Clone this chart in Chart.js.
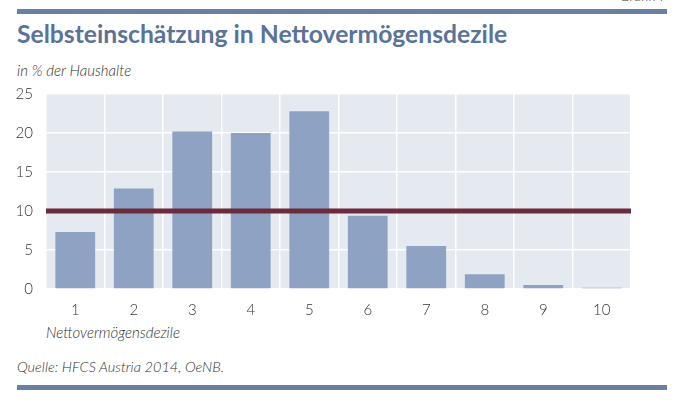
<!DOCTYPE html>
<html>
<head>
<meta charset="utf-8">
<script src="https://cdn.jsdelivr.net/npm/chart.js@4"></script>
<style>
html,body{margin:0;padding:0;background:#fff;}
body{width:683px;height:418px;position:relative;overflow:hidden;font-family:Lato,"Open Sans",sans-serif;color:#333;}
.bar{position:absolute;left:17px;width:650px;height:5px;background:#6a80a3;}
.t{position:absolute;white-space:nowrap;}
#wrap{position:absolute;left:0;top:72px;width:683px;height:255px;}
</style>
</head>
<body>
<div class="t" style="right:16px;top:-13px;font-size:14px;font-weight:300;">Grafik 7</div>
<div class="bar" style="top:9px;"></div>
<div class="t" style="left:17px;top:19px;font-size:24.7px;font-weight:700;color:#5a7398;">Selbsteinschätzung in Nettovermögensdezile</div>
<div class="t" style="left:17px;top:61px;font-size:15px;font-style:italic;font-weight:300;">in % der Haushalte</div>
<div class="t" style="left:46px;top:323px;font-size:15px;font-style:italic;font-weight:300;">Nettovermögensdezile</div>
<div class="t" style="left:17px;top:358px;font-size:14.5px;font-style:italic;font-weight:300;">Quelle: HFCS Austria 2014, OeNB.</div>
<div class="bar" style="top:385px;"></div>
<div id="wrap"><canvas id="c"></canvas></div>
<script>
const categories = ["1","2","3","4","5","6","7","8","9","10"];
const shares = [7.3, 12.9, 20.2, 20.0, 22.8, 9.4, 5.5, 1.9, 0.5, 0.15];
const referenceLine = 10;
const yTicks = [0, 5, 10, 15, 20, 25];

const bgPlugin = {
  id: 'bg',
  beforeDraw(chart) {
    const {ctx, chartArea: a} = chart;
    ctx.save();
    ctx.fillStyle = '#e5e9f0';
    ctx.fillRect(a.left, a.top, a.right - a.left, a.bottom - a.top);
    ctx.restore();
  }
};
const refPlugin = {
  id: 'ref',
  afterDatasetsDraw(chart) {
    const {ctx, chartArea: a, scales} = chart;
    const y = scales.y.getPixelForValue(referenceLine);
    ctx.save();
    ctx.strokeStyle = '#6a2b3c';
    ctx.lineWidth = 5;
    ctx.beginPath();
    ctx.moveTo(a.left, y);
    ctx.lineTo(a.right, y);
    ctx.stroke();
    ctx.restore();
  }
};

new Chart(document.getElementById('c'), {
  type: 'bar',
  data: {
    labels: categories,
    datasets: [{
      data: shares,
      backgroundColor: '#8ea3c3',
      categoryPercentage: 0.68,
      barPercentage: 1.0,
      minBarLength: 1
    }]
  },
  options: {
    responsive: true,
    maintainAspectRatio: false,
    animation: false,
    layout: {padding: {top: 2, right: 52, left: 0, bottom: 0}},
    plugins: {legend: {display: false}, tooltip: {enabled: false}},
    scales: {
      x: {
        grid: {color: '#ffffff', lineWidth: 1.5, offset: true, drawTicks: false},
        border: {display: false},
        ticks: {color: '#333', padding: 12, font: {family: 'Lato', size: 15, weight: 300}},
        afterFit(s) { s.height = 38; }
      },
      y: {
        min: 0, max: 25,
        afterBuildTicks(s) { s.ticks = yTicks.map(v => ({value: v})); },
        grid: {color: '#ffffff', lineWidth: 1.5, drawTicks: false},
        border: {display: false},
        ticks: {color: '#333', padding: 13, font: {family: 'Lato', size: 15, weight: 300}},
        afterFit(s) { s.width = 46; }
      }
    }
  },
  plugins: [bgPlugin, refPlugin]
});
</script>
</body>
</html>
